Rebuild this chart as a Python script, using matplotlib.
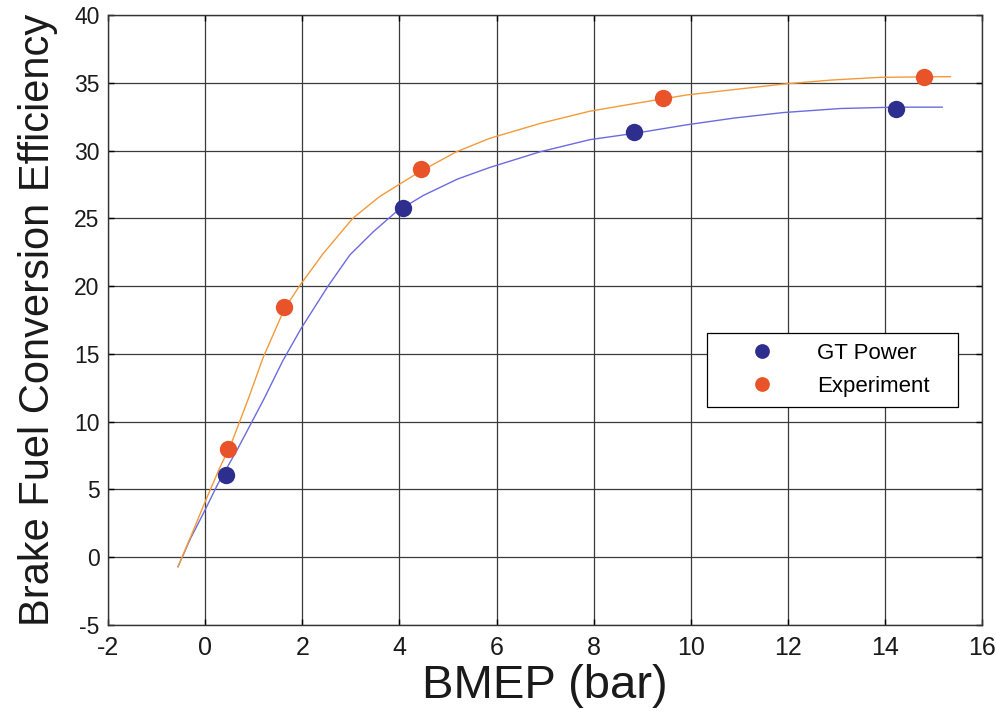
import numpy as np
import matplotlib
matplotlib.use("Agg")
import matplotlib.pyplot as plt

plt.rcParams['font.family'] = ['Liberation Sans', 'DejaVu Sans']
plt.rcParams['axes.unicode_minus'] = False

# GT Power simulation curve
gt_line_x = [-0.56, -0.3, 0.0, 0.26, 0.67, 1.2, 1.6, 1.98, 2.53, 2.98, 3.46, 3.94,
             4.5, 5.2, 5.86, 6.89, 7.92, 8.9, 9.92, 10.9, 11.9, 13.08, 14.2, 15.18]
gt_line_y = [-0.7, 1.4, 3.5, 5.4, 8.0, 11.6, 14.5, 16.9, 20.0, 22.3, 24.0, 25.5,
             26.7, 27.9, 28.75, 29.9, 30.8, 31.3, 31.9, 32.4, 32.8, 33.1, 33.2, 33.2]

# experiment curve
ex_line_x = [-0.56, -0.3, 0.0, 0.3, 0.54, 0.9, 1.19, 1.63, 1.94, 2.43, 3.04, 3.59,
             4.4, 5.17, 5.86, 6.9, 7.92, 8.9, 9.92, 10.9, 11.9, 12.9, 13.9, 15.35]
ex_line_y = [-0.7, 1.5, 4.1, 6.6, 8.4, 11.8, 14.7, 18.3, 20.0, 22.4, 25.0, 26.6,
             28.4, 29.9, 30.9, 32.0, 32.9, 33.5, 34.1, 34.5, 34.9, 35.2, 35.4, 35.45]

# measured points
gt_x = [0.43, 4.08, 8.84, 14.23]
gt_y = [6.1, 25.75, 31.35, 33.07]
ex_x = [0.47, 1.63, 4.44, 9.43, 14.8]
ex_y = [7.95, 18.45, 28.65, 33.85, 35.4]

fig = plt.figure(figsize=(9.96, 7.13), dpi=100)
ax = fig.add_axes([0.1085, 0.1234, 0.8775, 0.8556])

ax.plot(gt_line_x, gt_line_y, color='#6b6be0', lw=1.0, zorder=3)
ax.plot(ex_line_x, ex_line_y, color='#f39a3a', lw=1.0, zorder=3)
ax.plot(gt_x, gt_y, 'o', color='#2e2e8e', ms=12.5, mec='none', zorder=4, label='GT Power')
ax.plot(ex_x, ex_y, 'o', color='#e9532a', ms=12.5, mec='none', zorder=4, label='Experiment')

ax.set_xlim(-2, 16)
ax.set_ylim(-5, 40)
ax.set_xticks(np.arange(-2, 17, 2))
ax.set_yticks(np.arange(-5, 41, 5))
ax.grid(True, color='#3a3a3a', lw=0.9, ls='-')
ax.set_axisbelow(True)
ax.tick_params(direction='in', length=4, width=1, top=True, right=True, color='black')
ax.tick_params(axis='x', labelsize=18, pad=8, labelcolor='#1a1a1a')
ax.tick_params(axis='y', labelsize=16.5, pad=6, labelcolor='#1a1a1a')
for s in ax.spines.values():
    s.set_color('#333333')
    s.set_linewidth(1)

ax.set_xlabel('BMEP (bar)', fontsize=34, labelpad=3, color='#1a1a1a')
ax.set_ylabel('Brake Fuel Conversion Efficiency', fontsize=30, labelpad=12, color='#1a1a1a')

leg = ax.legend(loc='upper left', bbox_to_anchor=(0.685, 0.356, 0.2875, 0.123),
                mode='expand', borderaxespad=0, fontsize=16, frameon=True, fancybox=False,
                edgecolor='black', handlelength=4.1, handletextpad=0.4,
                borderpad=0.45, labelspacing=0.55, markerscale=0.85)
leg.get_frame().set_linewidth(0.9)
leg.get_frame().set_alpha(1)

fig.savefig('out.png', dpi=100)
